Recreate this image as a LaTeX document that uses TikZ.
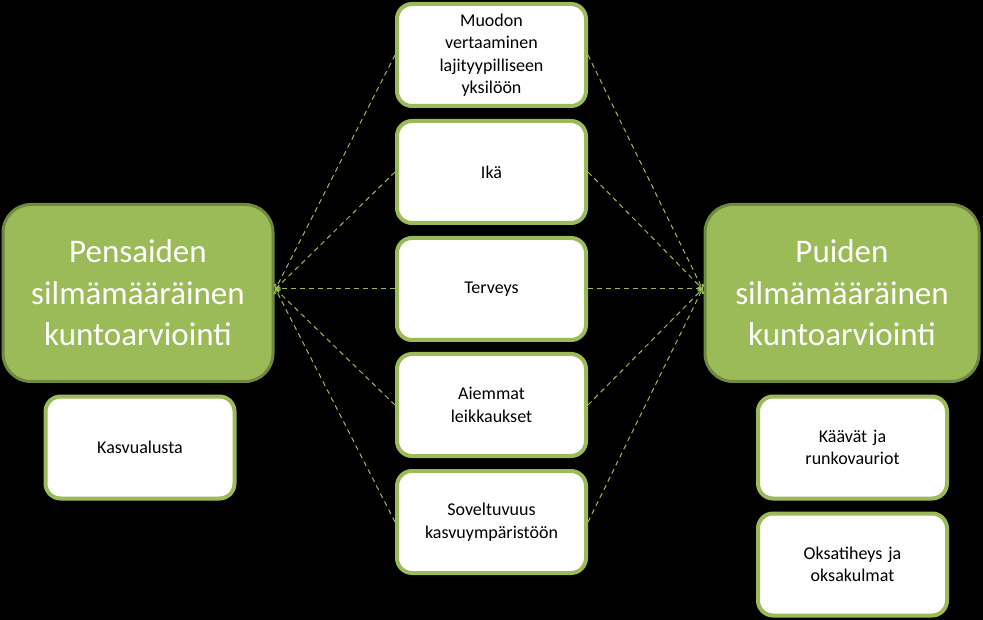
\documentclass[tikz,border=0pt]{standalone}
\usepackage{fontspec}
\setmainfont{Carlito}
\usetikzlibrary{arrows.meta,calc}
\definecolor{ogreen}{HTML}{9BBB59}
\definecolor{dgreen}{HTML}{71893F}
\begin{document}
\begin{tikzpicture}[x=1pt,y=-1pt,
  smallbox/.style={draw=ogreen,line width=4pt,fill=white,rounded corners=15pt,
    minimum width=189pt,minimum height=102pt,text width=170pt,align=center,
    inner sep=0pt,font=\fontsize{18}{22.5}\selectfont},
  bigbox/.style={draw=dgreen,line width=3pt,fill=ogreen,rounded corners=28pt,
    minimum width=270pt,minimum height=177pt,text width=250pt,align=center,
    inner sep=0pt,text=white,font=\fontsize{33}{41.5}\selectfont},
  conn/.style={draw=ogreen,dashed,line width=1pt,dash pattern=on 5pt off 4pt,
    -{Straight Barb[length=3pt,width=7pt]}}]
\fill[black] (0,0) rectangle (983,620);
\node[bigbox] (lbox) at (138,293) {Pensaiden\\silmämääräinen\\kuntoarviointi};
\node[bigbox,minimum width=274pt] (rbox) at (842,293) {Puiden\\silmämääräinen\\kuntoarviointi};
\node[smallbox] (m1) at (491.5,55) {Muodon\\vertaaminen\\lajityypilliseen\\yksilöön};
\node[smallbox] (m2) at (491.5,172) {Ikä};
\node[smallbox] (m3) at (491.5,289) {Terveys};
\node[smallbox] (m4) at (491.5,405) {Aiemmat\\leikkaukset};
\node[smallbox] (m5) at (491.5,522) {Soveltuvuus\\kasvuympäristöön};
\node[smallbox] (k) at (140,447.5) {Kasvualusta};
\node[smallbox] (r1) at (852.5,447.5) {Käävät ja\\runkovauriot};
\node[smallbox] (r2) at (852.5,564.5) {Oksatiheys ja\\oksakulmat};
\coordinate (la) at ($(lbox.east)+(1,-4)$);
\coordinate (ra) at ($(rbox.west)+(-1,-4)$);
\foreach \m in {m1,m2,m3,m4,m5}{
  \draw[conn] (\m.west) -- (la);
  \draw[conn] (\m.east) -- (ra);
}
\end{tikzpicture}
\end{document}
